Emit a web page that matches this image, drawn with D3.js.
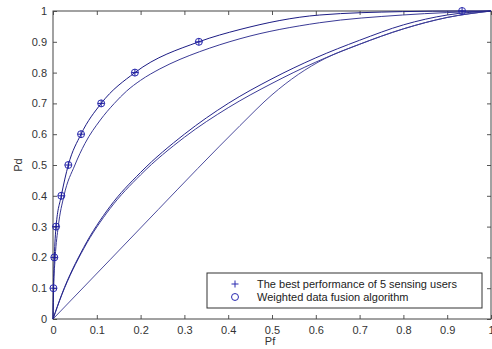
<!DOCTYPE html>
<html>
<head>
<meta charset="utf-8">
<script src="https://cdn.jsdelivr.net/npm/d3@7"></script>
<style>
  body { margin: 0; background: #fff; }
  svg { display: block; font-family: "Liberation Sans", Arial, sans-serif; }
  .tick text { font-size: 11px; fill: #333; }
</style>
</head>
<body>
<div id="chart"></div>
<script>
// marker points (same for "+" and "o")
var markerPf = [0.001, 0.003, 0.007, 0.019, 0.035, 0.064, 0.11, 0.187, 0.333, 0.934];
var markerPd = [0.1, 0.2, 0.3, 0.4, 0.5, 0.6, 0.7, 0.8, 0.9, 1.0];

// curve through the markers
var aPf = [0, 0.001, 0.003, 0.007, 0.019, 0.035, 0.064, 0.11, 0.187, 0.333, 0.427, 0.609, 0.798, 0.934, 1];
var aPd = [0, 0.1, 0.2, 0.3, 0.4, 0.5, 0.6, 0.7, 0.8, 0.9, 0.94, 0.987, 0.998, 1, 1];

// second curve just below
var bPf = [0, 0.0015, 0.005, 0.012, 0.025, 0.05, 0.073, 0.108, 0.14, 0.168, 0.2, 0.244, 0.29, 0.335, 0.427, 0.609, 0.798, 1];
var bPd = [0, 0.1, 0.2, 0.3, 0.4, 0.5, 0.57, 0.646, 0.70, 0.74, 0.775, 0.812, 0.843, 0.868, 0.91, 0.962, 0.987, 1];

// middle pair
var cPf = [0, 0.02, 0.07, 0.13, 0.2, 0.3, 0.4, 0.5, 0.6, 0.7, 0.8, 0.9, 1];
var cPd = [0, 0.08, 0.232, 0.365, 0.476, 0.6, 0.7, 0.78, 0.848, 0.905, 0.955, 0.987, 1];
var dPf = [0, 0.02, 0.07, 0.13, 0.2, 0.3, 0.4, 0.5, 0.6, 0.7, 0.8, 0.9, 1];
var dPd = [0, 0.078, 0.228, 0.358, 0.468, 0.59, 0.686, 0.765, 0.834, 0.892, 0.942, 0.979, 1];

// lowest curve
var ePf = [0, 0.13, 0.24, 0.33, 0.427, 0.5, 0.56, 0.62, 0.7, 0.8, 0.9, 1];
var ePd = [0, 0.192, 0.355, 0.488, 0.628, 0.728, 0.794, 0.845, 0.892, 0.942, 0.979, 1];

var xTicks = [0, 0.1, 0.2, 0.3, 0.4, 0.5, 0.6, 0.7, 0.8, 0.9, 1];
var yTicks = [0, 0.1, 0.2, 0.3, 0.4, 0.5, 0.6, 0.7, 0.8, 0.9, 1];

var legendLabels = ["The best performance of 5 sensing users", "Weighted data fusion algorithm"];

var W = 492, H = 349;
var margin = {top: 11, right: 1, bottom: 30, left: 53};
var width = W - margin.left - margin.right,
    height = H - margin.top - margin.bottom;

var svg = d3.select("#chart").append("svg")
    .attr("width", W)
    .attr("height", H);

var g = svg.append("g")
    .attr("transform", "translate(" + margin.left + "," + margin.top + ")");

var x = d3.scaleLinear().domain([0, 1]).range([0, width]);
var y = d3.scaleLinear().domain([0, 1]).range([height, 0]);

var fmt = function(d) { return d3.format("")(+d.toFixed(1)); };

// axes, Matlab style: ticks inside on all four sides
g.append("g")
    .attr("transform", "translate(0," + height + ")")
    .call(d3.axisBottom(x).tickValues(xTicks).tickSize(-4).tickPadding(7).tickFormat(fmt))
    .call(function(a) { a.select(".domain").remove(); });

g.append("g")
    .call(d3.axisLeft(y).tickValues(yTicks).tickSize(-4).tickPadding(6).tickFormat(fmt))
    .call(function(a) { a.select(".domain").remove(); });

g.append("g")
    .call(d3.axisTop(x).tickValues(xTicks).tickSize(-4).tickFormat(""))
    .call(function(a) { a.select(".domain").remove(); });

g.append("g")
    .attr("transform", "translate(" + width + ",0)")
    .call(d3.axisRight(y).tickValues(yTicks).tickSize(-4).tickFormat(""))
    .call(function(a) { a.select(".domain").remove(); });

g.selectAll(".tick line").attr("stroke", "#555");

g.append("rect")
    .attr("width", width)
    .attr("height", height)
    .attr("fill", "none")
    .attr("stroke", "#444")
    .attr("stroke-width", 1);

// curves
var curves = [
  {pf: ePf, pd: ePd, color: "#4d4d9e"},
  {pf: dPf, pd: dPd, color: "#3c3c98"},
  {pf: cPf, pd: cPd, color: "#26268c"},
  {pf: bPf, pd: bPd, color: "#3a3a96"},
  {pf: aPf, pd: aPd, color: "#1c1c84"}
];

var line = d3.line()
    .x(function(d) { return x(d[0]); })
    .y(function(d) { return y(d[1]); })
    .curve(d3.curveMonotoneX);

g.selectAll(".curve")
    .data(curves)
  .enter().append("path")
    .attr("class", "curve")
    .attr("fill", "none")
    .attr("stroke", function(d) { return d.color; })
    .attr("stroke-width", 1)
    .attr("d", function(d) { return line(d3.zip(d.pf, d.pd)); });

// markers
var markers = d3.zip(markerPf, markerPd);

g.selectAll(".circ")
    .data(markers)
  .enter().append("circle")
    .attr("class", "circ")
    .attr("cx", function(d) { return x(d[0]); })
    .attr("cy", function(d) { return y(d[1]); })
    .attr("r", 3.5)
    .attr("fill", "none")
    .attr("stroke", "#2a2ab0")
    .attr("stroke-width", 1);

g.selectAll(".plus")
    .data(markers)
  .enter().append("path")
    .attr("class", "plus")
    .attr("transform", function(d) { return "translate(" + x(d[0]) + "," + y(d[1]) + ")"; })
    .attr("d", "M-3.5,0H3.5M0,-3.5V3.5")
    .attr("stroke", "#1c1ca0")
    .attr("stroke-width", 1);

// axis labels
svg.append("text")
    .attr("x", margin.left + x(0.5) - 2)
    .attr("y", 345)
    .attr("text-anchor", "middle")
    .attr("font-size", 11)
    .attr("fill", "#333")
    .text("Pf");

svg.append("text")
    .attr("transform", "translate(22," + (margin.top + y(0.5)) + ") rotate(-90)")
    .attr("text-anchor", "middle")
    .attr("font-size", 11)
    .attr("fill", "#333")
    .text("Pd");

// legend
var lx = 207, ly = 273, lw = 275, lh = 35;
var legend = svg.append("g");
legend.append("rect")
    .attr("x", lx).attr("y", ly)
    .attr("width", lw).attr("height", lh)
    .attr("fill", "#fff")
    .attr("stroke", "#333");

var items = legend.selectAll(".legend")
    .data(legendLabels)
  .enter().append("g")
    .attr("class", "legend")
    .attr("transform", function(d, i) { return "translate(0," + (ly + 11 + i * 13) + ")"; });

items.append("path")
    .attr("transform", "translate(235,0)")
    .attr("d", function(d, i) { return i === 0 ? "M-3.5,0H3.5M0,-3.5V3.5" : d3.symbol().type(d3.symbolCircle).size(38)(); })
    .attr("fill", "none")
    .attr("stroke", "#2a2ab0");

items.append("text")
    .attr("x", 257)
    .attr("y", 0)
    .attr("dy", ".35em")
    .attr("font-size", 11)
    .attr("fill", "#222")
    .text(function(d) { return d; });
</script>
</body>
</html>
